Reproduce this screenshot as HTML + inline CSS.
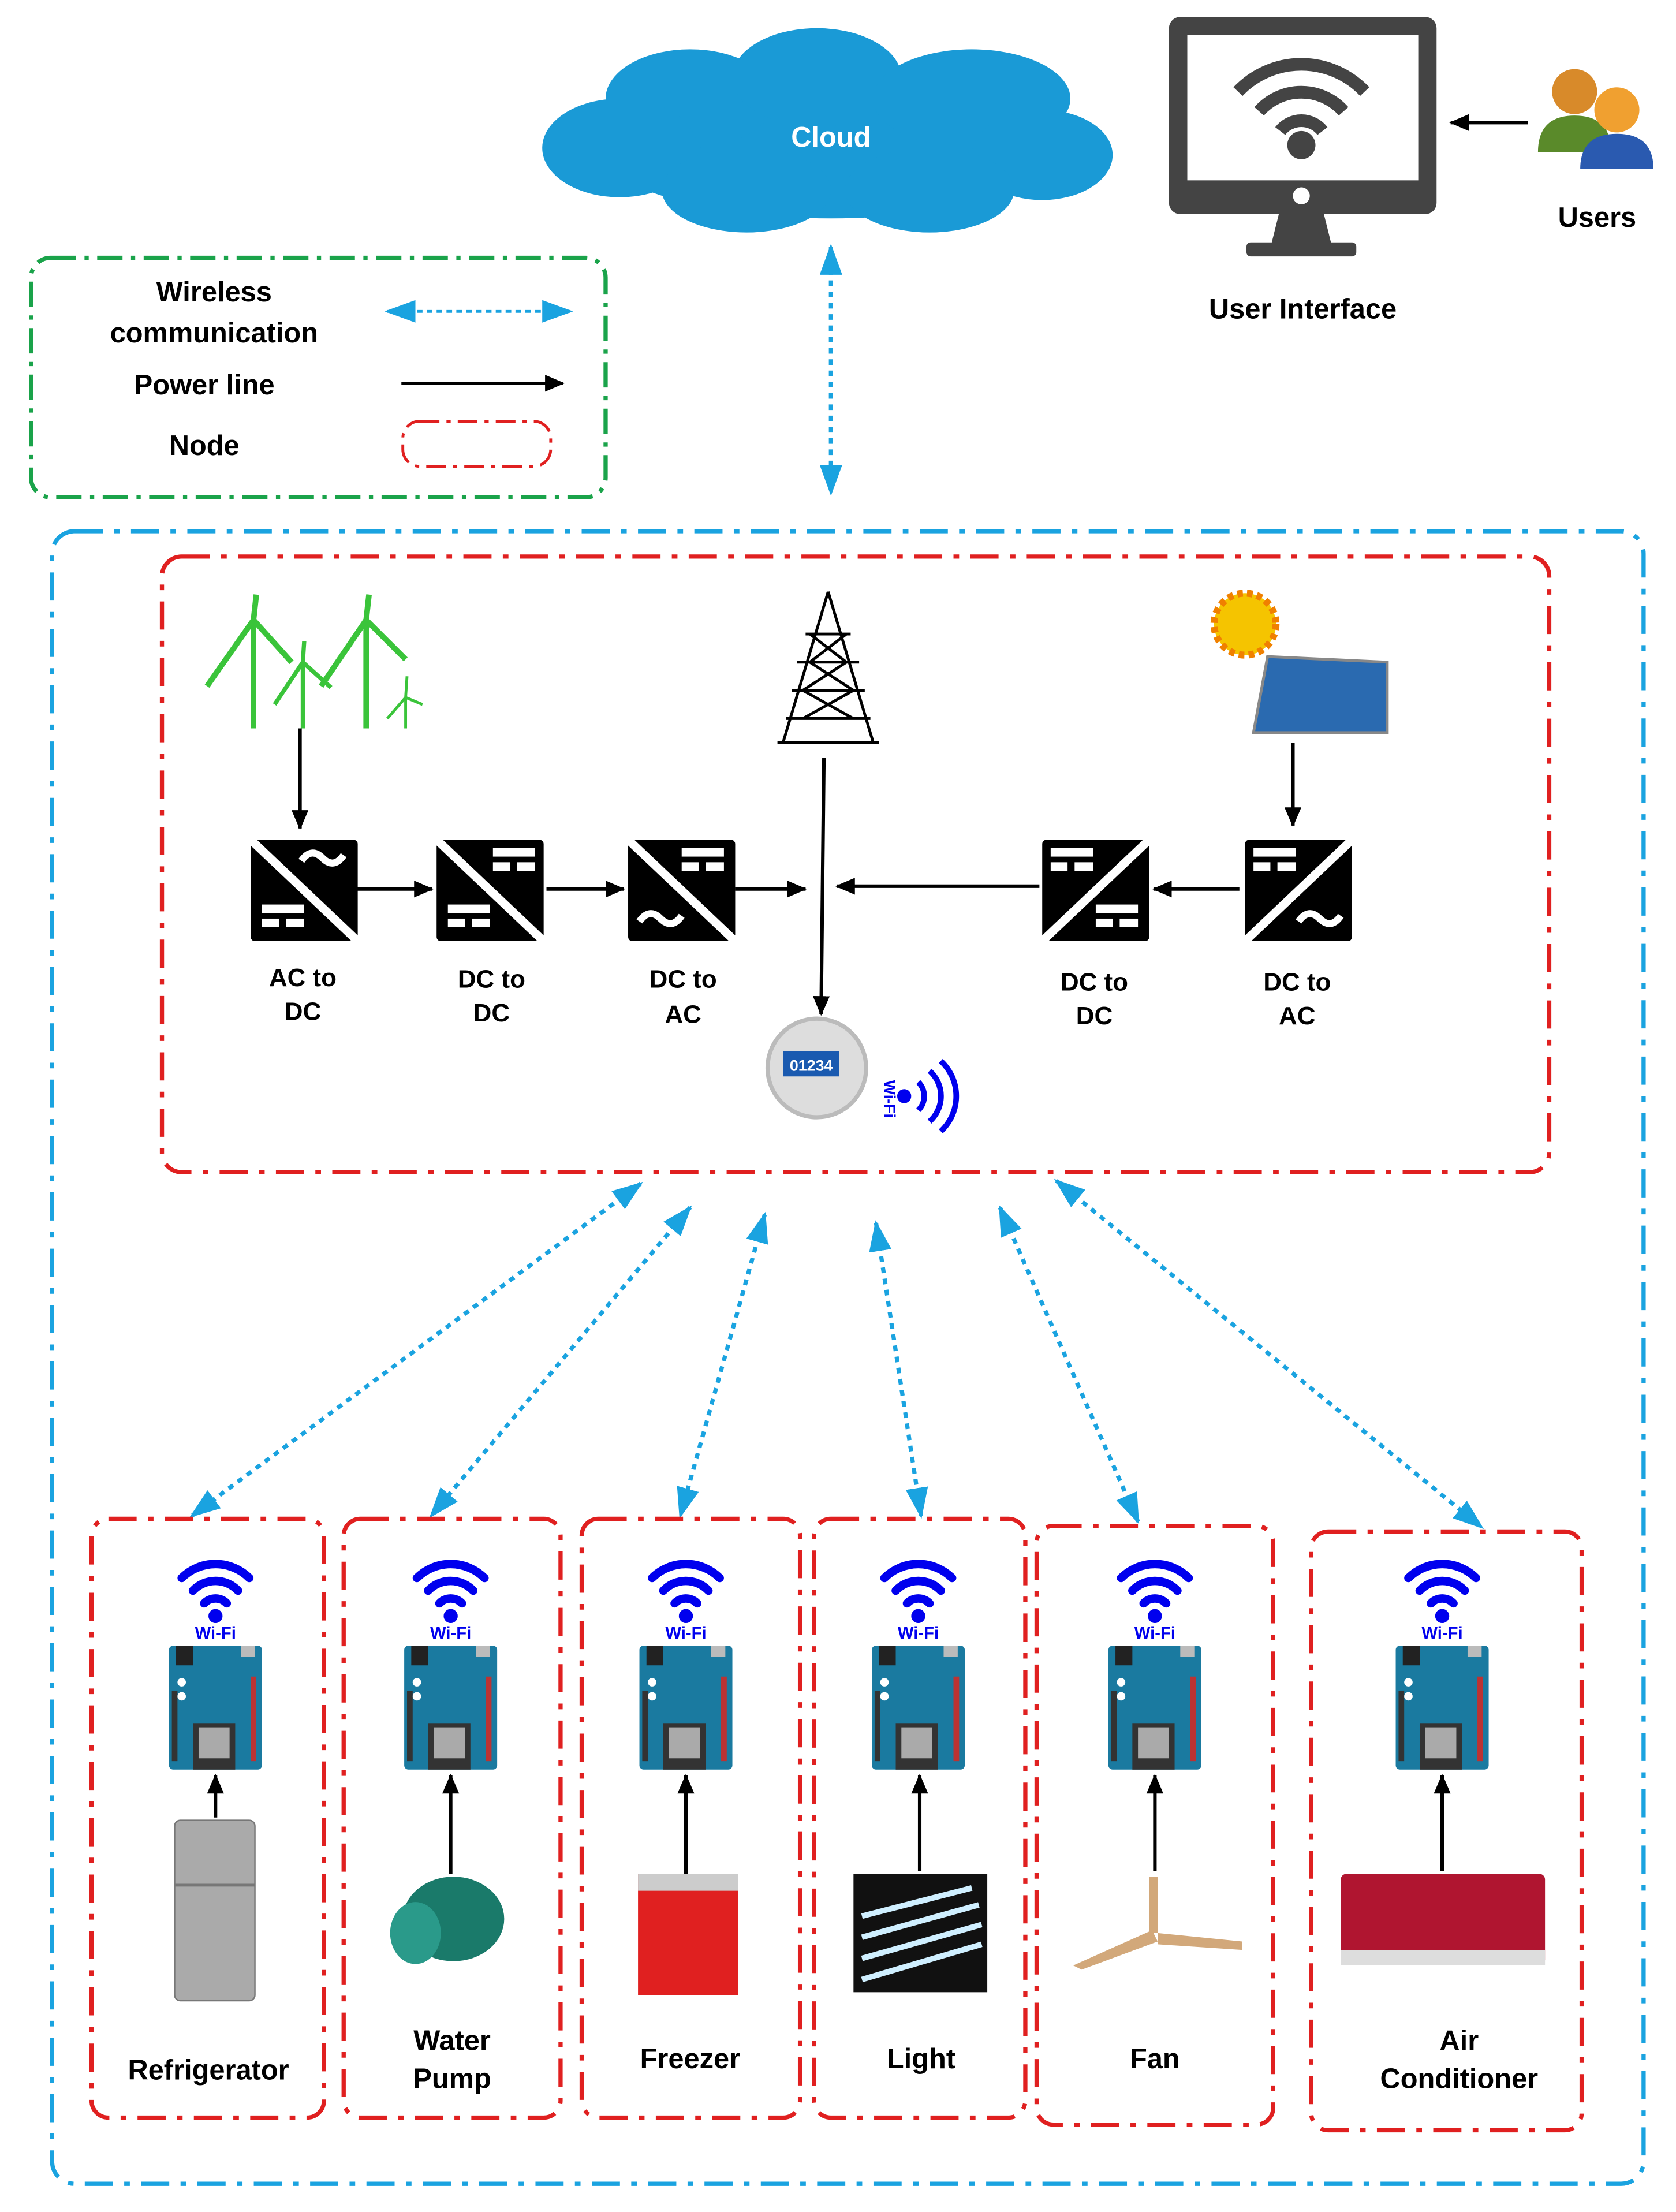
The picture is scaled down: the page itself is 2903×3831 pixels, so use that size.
<!DOCTYPE html>
<html><head><meta charset="utf-8"><style>
html,body{margin:0;padding:0;background:#fff}
svg{display:block}
text{font-family:"Liberation Sans",sans-serif;font-weight:bold}
</style></head><body>
<svg width="2903" height="3831" viewBox="0 0 1190 1570" preserveAspectRatio="none" xmlns="http://www.w3.org/2000/svg">
<defs>
<marker id="ab2" markerWidth="14" markerHeight="12" refX="13" refY="6" orient="auto" markerUnits="userSpaceOnUse"><path d="M0,0 L14,6 L0,12z" fill="#000"/></marker>
<marker id="bb" markerWidth="22" markerHeight="16" refX="20" refY="8" orient="auto-start-reverse" markerUnits="userSpaceOnUse"><path d="M0,0 L22,8 L0,16z" fill="#1aa3e0"/></marker>
<g id="wifi">
<path d="M-24,-28 A34,34 0 0 1 24,-28" stroke="#0000ee" stroke-width="6" fill="none" stroke-linecap="round"/>
<path d="M-16,-19 A22,22 0 0 1 16,-19" stroke="#0000ee" stroke-width="6" fill="none" stroke-linecap="round"/>
<path d="M-8,-10 A11,11 0 0 1 8,-10" stroke="#0000ee" stroke-width="6" fill="none" stroke-linecap="round"/>
<circle cx="0" cy="-1" r="5" fill="#0000ee"/>
</g>
<g id="board">
<rect x="-33" y="0" width="66" height="88" rx="3" fill="#1a7aa0"/>
<rect x="-28" y="0" width="12" height="14" fill="#222"/>
<rect x="18" y="0" width="10" height="8" fill="#bbb"/>
<rect x="-16" y="55" width="30" height="33" fill="#333"/>
<rect x="-12" y="58" width="22" height="22" fill="#aaa"/>
<rect x="25" y="22" width="4" height="60" fill="#b33"/>
<rect x="-31" y="32" width="4" height="50" fill="#333"/>
<circle cx="-24" cy="26" r="3" fill="#fff"/><circle cx="-24" cy="36" r="3" fill="#fff"/>
</g>
<g id="conv"><rect x="0" y="0" width="76" height="72" fill="#000" rx="3"/><path d="M0,0 L76,72" stroke="#fff" stroke-width="6"/></g>
<g id="bars" fill="#fff"><rect x="0" y="0" width="30" height="6"/><rect x="0" y="10" width="12" height="6"/><rect x="17" y="10" width="13" height="6"/></g>
<path id="tilde" d="M0,6 Q7,-4 15,4 T30,2" stroke="#fff" stroke-width="5" fill="none"/>
</defs>

<!-- Cloud -->
<g fill="#1a9ad6">
<ellipse cx="590" cy="100" rx="170" ry="55"/>
<ellipse cx="490" cy="70" rx="60" ry="35"/><ellipse cx="580" cy="55" rx="60" ry="35"/>
<ellipse cx="690" cy="70" rx="70" ry="35"/><ellipse cx="440" cy="105" rx="55" ry="35"/>
<ellipse cx="740" cy="110" rx="50" ry="32"/><ellipse cx="530" cy="135" rx="60" ry="30"/>
<ellipse cx="660" cy="135" rx="60" ry="30"/>
</g>
<text x="590" y="104" fill="#fff" font-size="20" text-anchor="middle" font-weight="normal">Cloud</text>

<!-- Monitor -->
<rect x="830" y="12" width="190" height="140" rx="8" fill="#444"/>
<rect x="843" y="25" width="164" height="103" fill="#fff"/>
<circle cx="924" cy="139" r="6" fill="#fff"/>
<path d="M908,152 L940,152 L946,176 L902,176z" fill="#444"/>
<rect x="885" y="172" width="78" height="10" rx="3" fill="#444"/>
<g transform="translate(924,103)">
<path d="M-45,-38 A62,62 0 0 1 45,-38" stroke="#444" stroke-width="9" fill="none"/>
<path d="M-30,-24 A40,40 0 0 1 30,-24" stroke="#444" stroke-width="9" fill="none"/>
<path d="M-15,-10 A19,19 0 0 1 15,-10" stroke="#444" stroke-width="9" fill="none"/>
<circle r="10" fill="#444"/></g>
<text x="925" y="226" font-size="20" text-anchor="middle">User Interface</text>
<line x1="1085" y1="87" x2="1030" y2="87" stroke="#000" stroke-width="2.5" marker-end="url(#ab2)"/>
<circle cx="1118" cy="65" r="16" fill="#d88a2a"/><path d="M1092,108 Q1092,82 1118,82 Q1144,82 1144,108z" fill="#5a8a2a"/>
<circle cx="1148" cy="78" r="16" fill="#f0a030"/><path d="M1122,120 Q1122,95 1148,95 Q1174,95 1174,120z" fill="#2a5ab0"/>
<text x="1134" y="161" font-size="20" text-anchor="middle">Users</text>

<!-- Legend -->
<rect x="22" y="183" width="408" height="170" rx="14" fill="none" stroke="#1aa34a" stroke-width="3" stroke-dasharray="18,6,3,6"/>
<text x="152" y="214" font-size="20" text-anchor="middle">Wireless</text>
<text x="152" y="243" font-size="20" text-anchor="middle">communication</text>
<text x="145" y="280" font-size="20" text-anchor="middle">Power line</text>
<text x="145" y="323" font-size="20" text-anchor="middle">Node</text>
<line x1="275" y1="221" x2="405" y2="221" stroke="#1aa3e0" stroke-width="2" stroke-dasharray="4,3" marker-start="url(#bb)" marker-end="url(#bb)"/>
<line x1="285" y1="272" x2="400" y2="272" stroke="#000" stroke-width="2" marker-end="url(#ab2)"/>
<rect x="286" y="299" width="105" height="32" rx="12" fill="none" stroke="#e02020" stroke-width="2" stroke-dasharray="14,5,3,5"/>

<line x1="590" y1="175" x2="590" y2="350" stroke="#1aa3e0" stroke-width="3" stroke-dasharray="4,4" marker-start="url(#bb)" marker-end="url(#bb)"/>

<rect x="37" y="377" width="1130" height="1173" rx="16" fill="none" stroke="#1aa3e0" stroke-width="3" stroke-dasharray="20,8,4,8"/>
<rect x="115" y="395" width="985" height="437" rx="14" fill="none" stroke="#e02020" stroke-width="3" stroke-dasharray="20,8,4,8"/>

<!-- wind -->
<g stroke="#3ac43a" stroke-width="4" fill="none">
<line x1="180" y1="440" x2="180" y2="517"/><path d="M180,440 L182,422 M180,440 L147,487 M180,440 L207,470"/>
<line x1="260" y1="440" x2="260" y2="517"/><path d="M260,440 L262,422 M260,440 L228,487 M260,440 L288,468"/>
<line x1="215" y1="470" x2="215" y2="517" stroke-width="3"/><path d="M215,470 L216,455 M215,470 L195,500 M215,470 L235,488" stroke-width="3"/>
<line x1="288" y1="495" x2="288" y2="517" stroke-width="2"/><path d="M288,495 L289,480 M288,495 L275,510 M288,495 L300,500" stroke-width="2"/>
</g>
<g stroke="#000" stroke-width="2" fill="none">
<path d="M588,420 L556,527 M588,420 L620,527 M572,450 L604,450 M566,470 L610,470 M562,490 L614,490 M558,510 L618,510 M575,450 L601,470 L570,490 L606,510 M601,450 L575,470 L606,490 L570,510 M552,527 L624,527"/>
</g>
<circle cx="884" cy="443" r="22" fill="#f5c400" stroke="#f08000" stroke-width="5" stroke-dasharray="4,3"/>
<path d="M900,466 L985,470 L985,520 L890,520z" fill="#2a6ab0" stroke="#888" stroke-width="2"/>

<!-- converters -->
<use href="#conv" x="178" y="596"/><use href="#conv" x="310" y="596"/><use href="#conv" x="446" y="596"/>
<use href="#conv" x="738" y="596" transform="translate(1554,0) scale(-1,1)"/><use href="#conv" x="882" y="596" transform="translate(1842,0) scale(-1,1)"/>
<use href="#tilde" x="214" y="605"/><use href="#bars" x="186" y="642"/>
<use href="#bars" x="350" y="602"/><use href="#bars" x="318" y="642"/>
<use href="#bars" x="484" y="602"/><use href="#tilde" x="454" y="648"/>
<use href="#bars" x="746" y="602"/><use href="#bars" x="778" y="642"/>
<use href="#bars" x="890" y="602"/><use href="#tilde" x="922" y="648"/>
<g font-size="18" text-anchor="middle">
<text x="215" y="700">AC to</text><text x="215" y="724">DC</text>
<text x="349" y="701">DC to</text><text x="349" y="725">DC</text>
<text x="485" y="701">DC to</text><text x="485" y="726">AC</text>
<text x="777" y="703">DC to</text><text x="777" y="727">DC</text>
<text x="921" y="703">DC to</text><text x="921" y="727">AC</text>
</g>
<g stroke="#000" stroke-width="2.5">
<line x1="213" y1="517" x2="213" y2="588" marker-end="url(#ab2)"/>
<line x1="918" y1="527" x2="918" y2="586" marker-end="url(#ab2)"/>
<line x1="252" y1="631" x2="307" y2="631" marker-end="url(#ab2)"/>
<line x1="388" y1="631" x2="443" y2="631" marker-end="url(#ab2)"/>
<line x1="522" y1="631" x2="572" y2="631" marker-end="url(#ab2)"/>
<line x1="738" y1="629" x2="594" y2="629" marker-end="url(#ab2)"/>
<line x1="880" y1="631" x2="819" y2="631" marker-end="url(#ab2)"/>
<line x1="585" y1="538" x2="583" y2="720" marker-end="url(#ab2)"/>
</g>
<circle cx="580" cy="758" r="35" fill="#ddd" stroke="#bbb" stroke-width="3"/>
<rect x="556" y="746" width="40" height="18" fill="#1a5ab0"/>
<text x="576" y="760" fill="#fff" font-size="11" text-anchor="middle" font-weight="normal">01234</text>
<text x="628" y="780" fill="#0000ee" font-size="11" text-anchor="middle" transform="rotate(90 628 780)">Wi-Fi</text>
<circle cx="642" cy="778" r="5" fill="#0000ee"/>
<g stroke="#0000ee" stroke-width="4" fill="none"><path d="M652,768 A14,14 0 0 1 652,788"/><path d="M660,760 A24,24 0 0 1 660,796"/><path d="M668,753 A34,34 0 0 1 668,803"/></g>

<g stroke="#1aa3e0" stroke-width="3" stroke-dasharray="4,4" fill="none">
<line x1="455" y1="840" x2="136" y2="1076" marker-start="url(#bb)" marker-end="url(#bb)"/>
<line x1="490" y1="857" x2="306" y2="1076" marker-start="url(#bb)" marker-end="url(#bb)"/>
<line x1="543" y1="862" x2="483" y2="1076" marker-start="url(#bb)" marker-end="url(#bb)"/>
<line x1="622" y1="868" x2="654" y2="1076" marker-start="url(#bb)" marker-end="url(#bb)"/>
<line x1="710" y1="857" x2="808" y2="1080" marker-start="url(#bb)" marker-end="url(#bb)"/>
<line x1="750" y1="838" x2="1052" y2="1084" marker-start="url(#bb)" marker-end="url(#bb)"/>
</g>

<g fill="none" stroke="#e02020" stroke-width="3" stroke-dasharray="20,8,4,8">
<rect x="65" y="1078" width="165" height="425" rx="12"/>
<rect x="244" y="1078" width="154" height="425" rx="12"/>
<rect x="413" y="1078" width="155" height="425" rx="12"/>
<rect x="578" y="1078" width="150" height="425" rx="12"/>
<rect x="736" y="1083" width="168" height="425" rx="12"/>
<rect x="931" y="1087" width="192" height="425" rx="12"/>
</g>
<g font-size="12" fill="#0000ee" text-anchor="middle">
<use href="#wifi" x="153" y="1148"/><text x="153" y="1163">Wi-Fi</text><use href="#board" x="153" y="1168"/>
<use href="#wifi" x="320" y="1148"/><text x="320" y="1163">Wi-Fi</text><use href="#board" x="320" y="1168"/>
<use href="#wifi" x="487" y="1148"/><text x="487" y="1163">Wi-Fi</text><use href="#board" x="487" y="1168"/>
<use href="#wifi" x="652" y="1148"/><text x="652" y="1163">Wi-Fi</text><use href="#board" x="652" y="1168"/>
<use href="#wifi" x="820" y="1148"/><text x="820" y="1163">Wi-Fi</text><use href="#board" x="820" y="1168"/>
<use href="#wifi" x="1024" y="1148"/><text x="1024" y="1163">Wi-Fi</text><use href="#board" x="1024" y="1168"/>
</g>
<g stroke="#000" stroke-width="2.5">
<line x1="153" y1="1290" x2="153" y2="1260" marker-end="url(#ab2)"/>
<line x1="320" y1="1330" x2="320" y2="1260" marker-end="url(#ab2)"/>
<line x1="487" y1="1330" x2="487" y2="1260" marker-end="url(#ab2)"/>
<line x1="653" y1="1328" x2="653" y2="1260" marker-end="url(#ab2)"/>
<line x1="820" y1="1328" x2="820" y2="1260" marker-end="url(#ab2)"/>
<line x1="1024" y1="1328" x2="1024" y2="1260" marker-end="url(#ab2)"/>
</g>
<rect x="124" y="1292" width="57" height="128" rx="4" fill="#aaa" stroke="#777"/><line x1="124" y1="1338" x2="181" y2="1338" stroke="#777" stroke-width="2"/>
<ellipse cx="322" cy="1362" rx="36" ry="30" fill="#1a7a6a"/><ellipse cx="295" cy="1372" rx="18" ry="22" fill="#2a9a8a"/>
<rect x="453" y="1330" width="71" height="86" fill="#e02020"/><rect x="453" y="1330" width="71" height="12" fill="#ccc"/>
<rect x="606" y="1330" width="95" height="84" fill="#111"/>
<g stroke="#cfefff" stroke-width="4"><line x1="612" y1="1360" x2="690" y2="1340"/><line x1="612" y1="1375" x2="695" y2="1352"/><line x1="612" y1="1390" x2="697" y2="1366"/><line x1="612" y1="1405" x2="697" y2="1380"/></g>
<g fill="#d2a87a"><path d="M818,1370 L762,1395 L768,1398 L822,1378z"/><path d="M822,1372 L882,1378 L882,1384 L822,1380z"/><rect x="816" y="1332" width="6" height="40"/></g>
<rect x="952" y="1330" width="145" height="65" rx="4" fill="#b01530"/><rect x="952" y="1384" width="145" height="11" fill="#ddd"/>
<g font-size="20" text-anchor="middle" fill="#000">
<text x="148" y="1476">Refrigerator</text>
<text x="321" y="1455">Water</text><text x="321" y="1482">Pump</text>
<text x="490" y="1468">Freezer</text>
<text x="654" y="1468">Light</text>
<text x="820" y="1468">Fan</text>
<text x="1036" y="1455">Air</text><text x="1036" y="1482">Conditioner</text>
</g>
</svg>
</body></html>
